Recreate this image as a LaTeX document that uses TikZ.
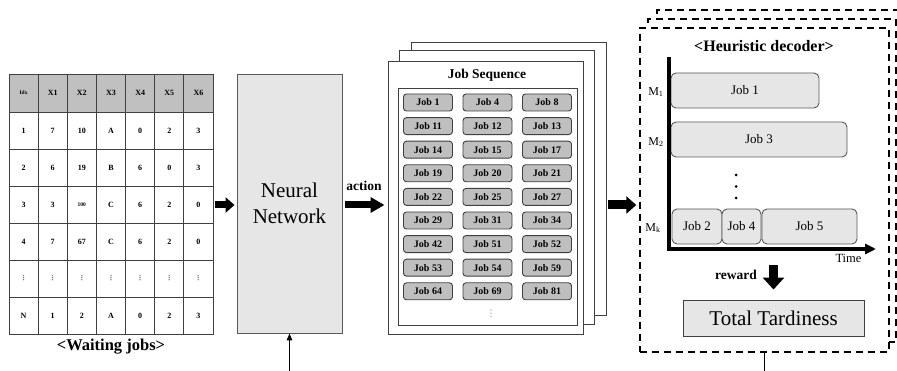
\documentclass[tikz,border=0pt]{standalone}
\usepackage{fontspec}
\setmainfont{Liberation Serif}
\newfontfamily\dejavu{DejaVu Sans}
\usetikzlibrary{arrows.meta}
\definecolor{lgray}{HTML}{404040}
\definecolor{mgray}{HTML}{595959}
\definecolor{hfill}{HTML}{C0C0C0}
\definecolor{bfill}{HTML}{E6E6E6}
\definecolor{jfill}{HTML}{BFBFBF}
\newcommand{\tvd}{\textcolor{gray}{\dejavu\fontsize{7}{7}\selectfont ⋮}}
\newcommand{\thund}{{\fontsize{5.5}{6}\selectfont 100}}
\newcommand{\tidx}{{\fontsize{5.5}{6}\selectfont Idx}}
\newcommand{\fs}[1]{\fontsize{#1}{#1}\selectfont}
\begin{document}
\begin{tikzpicture}[x=1pt,y=-1pt,
  hcell/.style={draw=lgray,line width=0.8pt,fill=hfill,minimum width=29.143pt,minimum height=38pt,inner sep=0pt,font=\fs{8}\bfseries},
  bcell/.style={draw=lgray,line width=0.8pt,fill=white,minimum width=29.143pt,minimum height=37pt,inner sep=0pt,font=\fs{8}\bfseries},
  fatA/.style={line width=7pt,-{Triangle[length=9pt,width=15pt]}},
  fatB/.style={line width=7pt,-{Triangle[length=14pt,width=15pt]}},
  fatC/.style={line width=9pt,-{Triangle[length=10pt,width=17pt]}},
  fatD/.style={line width=9pt,-{Triangle[length=12pt,width=21pt]}},
  thinln/.style={line width=1.3pt,draw=black},
  paper/.style={draw=lgray,line width=1pt,fill=white,inner sep=0pt},
  jobbtn/.style={draw=lgray,line width=0.9pt,fill=jfill,rounded corners=3pt,minimum width=49pt,minimum height=17pt,inner sep=0pt,font=\fs{10}\bfseries},
  gbar/.style={draw=mgray,line width=0.9pt,fill=bfill,rounded corners=5pt,minimum height=35pt,inner sep=0pt,font=\fs{13}},
  decbox/.style={draw=black,line width=1.4pt,dash pattern=on 7pt off 5pt,fill=white,inner sep=0pt},
  mlbl/.style={inner sep=0pt,font=\fs{12}}
]
\useasboundingbox (0,0) rectangle (897,371);
\fill[white] (0,0) rectangle (897,371);

% ---------- table ----------
\foreach [count=\j from 0] \v in {\tidx,X1,X2,X3,X4,X5,X6}
  \node[hcell] (h-\j) at ({9+29.143*(\j+0.5)},93) {\v};
\foreach [count=\i] \rowlist in {{1,7,10,A,0,2,3},{2,6,19,B,6,0,3},{3,3,\thund,C,6,2,0},{4,7,67,C,6,2,0},{\tvd,\tvd,\tvd,\tvd,\tvd,\tvd,\tvd},{N,1,2,A,0,2,3}}
  {\foreach [count=\j from 0] \v in \rowlist
    {\node[bcell] (c-\i-\j) at ({9+29.143*(\j+0.5)},{93.5+37*\i}) {\v};}}
\node[font=\fs{16.5}\bfseries,inner sep=0pt] (wait) at (111,347) {<Waiting jobs>};

% ---------- neural network ----------
\node[draw=mgray,line width=0.9pt,fill=bfill,minimum width=105pt,minimum height=259pt,inner sep=0pt,align=center,font=\fontsize{21}{26}\selectfont] (nn) at (289.5,203.5) {Neural\\Network};
\coordinate (arrowy) at (0,205);
\coordinate (nnin) at (289.5,371);
\draw[thinln,-{Triangle[length=7pt,width=5.5pt]}] (nnin) -- (nn.south);
\draw[fatA,shorten <=2pt,shorten >=2pt] (h-6.east |- arrowy) -- (nn.west |- arrowy);

% ---------- job sequence ----------
\node[paper,minimum width=195pt,minimum height=273pt] (p3) at (508.5,179.5) {};
\node[paper,minimum width=195pt,minimum height=274pt] (p2) at (496.5,188) {};
\node[paper,minimum width=195pt,minimum height=273pt] (p1) at (485.5,198.5) {};
\node[draw=lgray,line width=0.9pt,minimum width=179pt,minimum height=237pt,inner sep=0pt] (inner) at (487.5,206.5) {};
\node[font=\fs{13.5}\bfseries,inner sep=0pt] (jstitle) at (487,75) {Job Sequence};
\foreach [count=\i from 0] \rowlist in {{1,4,8},{11,12,13},{14,15,17},{19,20,21},{22,25,27},{29,31,34},{42,51,52},{53,54,59},{64,69,81}}
  {\foreach [count=\j from 0] \v in \rowlist
    {\node[jobbtn] (j-\i-\j) at ({428+59.5*\j},{102.5+23.6*\i}) {Job \v};}}
\node[font=\dejavu\fs{9},text=gray,inner sep=0pt] (jsdots) at (491,314) {⋮};

\node[font=\fs{13.5}\bfseries,inner sep=0pt] (actlbl) at (364,186) {action};
\draw[fatB,shorten <=3pt,shorten >=3pt] (nn.east |- arrowy) -- (p1.west |- arrowy);

% ---------- heuristic decoder ----------
\node[decbox,minimum width=248pt,minimum height=323pt] (dec3) at (781,171.5) {};
\node[decbox,minimum width=248pt,minimum height=323pt] (dec2) at (772,180.5) {};
\node[decbox,minimum width=249pt,minimum height=324pt] (dec1) at (764.5,190) {};
\coordinate (decout) at (764.5,371);
\draw[thinln] (dec1.south) -- (decout);
\draw[fatC,shorten <=1pt,shorten >=3pt] (p3.east |- arrowy) -- (dec1.west |- arrowy);

\node[font=\fs{16}\bfseries,inner sep=0pt] (dectitle) at (764,46) {<Heuristic decoder>};

\node[gbar,minimum width=148pt] (g1) at (745,90.5) {Job 1};
\node[gbar,minimum width=176pt] (g3) at (759,139.5) {Job 3};
\node[gbar,minimum width=50pt] (g2) at (697,226.5) {Job 2};
\node[gbar,minimum width=39pt] (g4) at (741.5,226.5) {Job 4};
\node[gbar,minimum width=95pt] (g5) at (809.5,226.5) {Job 5};

\coordinate (ytop) at (669,57);
\coordinate (orig) at (669,249);
\coordinate (xend) at (876,249);
\draw[line width=3.2pt,miter limit=10,-{Triangle[length=11pt,width=10pt]}] (ytop) -- (orig) -- (xend);

\fill (736,175) circle (1.5pt);
\fill (736,186.5) circle (1.5pt);
\fill (736,198) circle (1.5pt);

\node[mlbl] (m1) at (656,92) {M$_1$};
\node[mlbl] (m2) at (656,142) {M$_2$};
\node[mlbl] (mk) at (653,228) {M$_\mathrm{k}$};
\node[font=\fs{12.5},inner sep=0pt] (timelbl) at (848.5,258) {Time};

\node[draw=lgray,line width=0.9pt,fill=bfill,minimum width=181pt,minimum height=36pt,inner sep=0pt,font=\fs{21}] (tt) at (773.5,318) {Total Tardiness};
\coordinate (rwstart) at (773.5,265);
\draw[fatD,shorten >=10pt] (rwstart) -- (tt.north);
\node[font=\fs{13.5}\bfseries,inner sep=0pt] (rwlbl) at (736,275) {reward};
\end{tikzpicture}
\end{document}
